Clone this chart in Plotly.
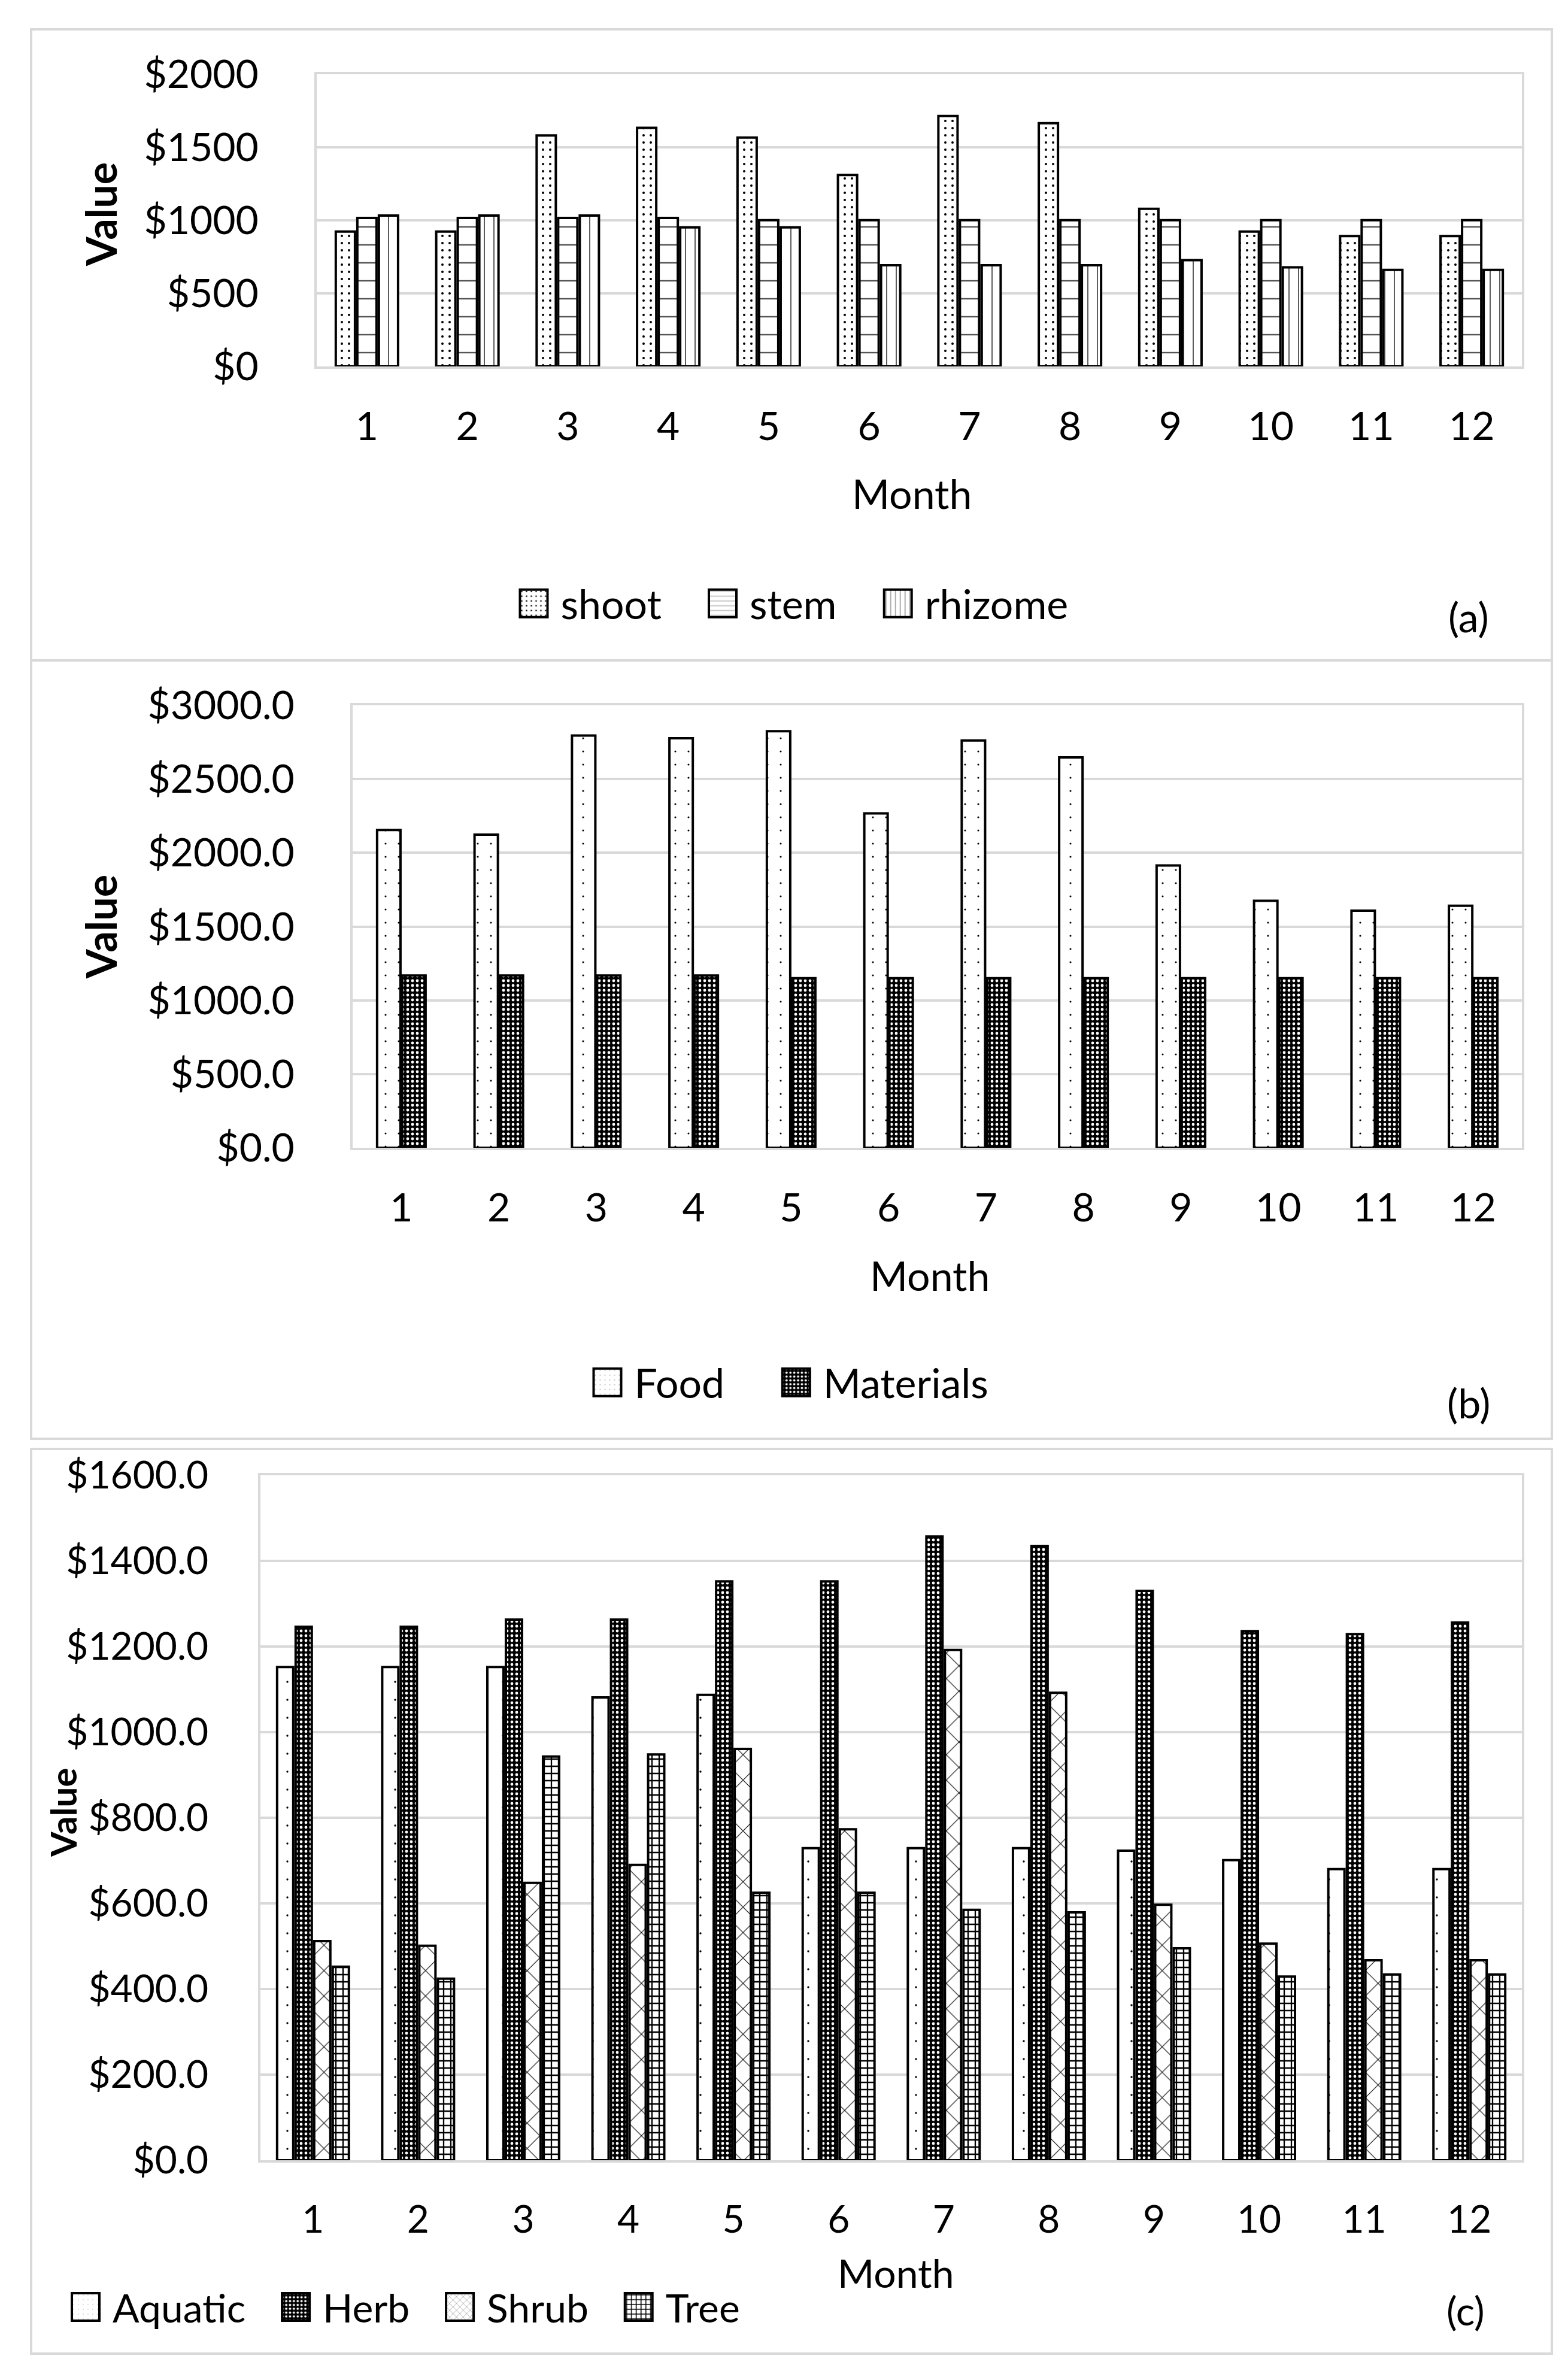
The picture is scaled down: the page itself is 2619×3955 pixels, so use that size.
import plotly.graph_objects as go

# ---------------- data ----------------
months = list(range(1, 13))

# panel (a)
shoot = [923, 923, 1581, 1633, 1567, 1310, 1714, 1665, 1079, 923, 892, 892]
stem = [1016, 1016, 1016, 1016, 1001, 1001, 1001, 1001, 1001, 1001, 1001, 1001]
rhizome = [1033, 1033, 1033, 952, 952, 693, 693, 693, 727, 678, 661, 661]

# panel (b)
food = [2155, 2123, 2795, 2777, 2824, 2267, 2761, 2647, 1914, 1675, 1608, 1641]
materials = [1168, 1168, 1168, 1168, 1150, 1150, 1150, 1150, 1150, 1150, 1150, 1150]

# panel (c)
aquatic = [1152, 1152, 1152, 1081, 1087, 729, 729, 729, 723, 701, 680, 680]
herb = [1246, 1246, 1263, 1263, 1352, 1352, 1457, 1435, 1330, 1236, 1229, 1256]
shrub = [512, 501, 648, 690, 961, 773, 1192, 1092, 597, 506, 467, 467]
tree = [452, 424, 943, 948, 625, 625, 585, 579, 495, 429, 434, 434]

# ---------------- styling ----------------
W, H = 2619, 3955
FONT = "Lato"
GRID = "#d9d9d9"
EDGE = dict(color="black", width=4)


def px_x(v):
    return v / W


def px_y(v):
    return 1 - v / H


PAT = {
    "shoot": dict(shape=".", size=12, solidity=0.09, fgcolor="black", bgcolor="white"),
    "stem": dict(shape="-", size=30, solidity=0.08, fgcolor="#555555", bgcolor="white"),
    "rhizome": dict(shape="|", size=16, solidity=0.12, fgcolor="#555555", bgcolor="white"),
    "food": dict(shape=".", size=22, solidity=0.016, fgcolor="black", bgcolor="white"),
    "materials": dict(shape=".", size=8, solidity=0.28, fgcolor="white", bgcolor="black"),
    "aquatic": dict(shape=".", size=30, solidity=0.01, fgcolor="black", bgcolor="white"),
    "herb": dict(shape=".", size=8, solidity=0.28, fgcolor="white", bgcolor="black"),
    "shrub": dict(shape="x", size=30, solidity=0.07, fgcolor="black", bgcolor="white"),
    "tree": dict(shape="+", size=12, solidity=0.35, fgcolor="black", bgcolor="white"),
}


def group_geom(group_frac, n, gap):
    pitch = group_frac / n
    w = pitch * (1 - gap)
    offs = [-group_frac / 2 + i * pitch + (pitch - w) / 2 for i in range(n)]
    return w, offs


fig = go.Figure()

panels = [
    # names, series, pattern keys, axis suffix, legend id, group width, group gap, legend padding
    (["shoot", "stem", "rhizome"], [shoot, stem, rhizome], ["shoot", "stem", "rhizome"], "", "legend", 0.644, 0.11, 3),
    (["Food", "Materials"], [food, materials], ["food", "materials"], "2", "legend2", 0.516, 0.07, 4),
    (["Aquatic", "Herb", "Shrub", "Tree"], [aquatic, herb, shrub, tree], ["aquatic", "herb", "shrub", "tree"], "3", "legend3", 0.706, 0.13, 2),
]

for names, series, keys, sfx, leg, gfrac, ggap, npad in panels:
    w, offs = group_geom(gfrac, len(series), ggap)
    for i, (name, vals, key, off) in enumerate(zip(names, series, keys, offs)):
        label = name + ("\u00a0" * npad if i < len(names) - 1 else "")
        fig.add_trace(go.Bar(
            x=months, y=vals, name=label,
            xaxis="x" + sfx, yaxis="y" + sfx, legend=leg,
            width=w, offset=off,
            marker=dict(color="white", line=EDGE, pattern=PAT[key]),
        ))


def xax(domain, anchor, size=66):
    return dict(domain=domain, anchor=anchor, range=[0.5, 12.5], tickmode="array",
                tickvals=months, ticktext=[str(m) for m in months],
                tickfont=dict(family=FONT, size=size, color="black"),
                showgrid=False, showline=True, linecolor=GRID, linewidth=4, mirror=True,
                ticks="", ticklabelstandoff=40, zeroline=False, fixedrange=True,
                automargin=False)


def yax(domain, anchor, rng, dtick, fmt, standoff, size=66):
    return dict(domain=domain, anchor=anchor, range=rng, dtick=dtick, tickprefix="$",
                tickformat=fmt, tickfont=dict(family=FONT, size=size, color="black"),
                showgrid=True, gridcolor=GRID, gridwidth=4, showline=True, linecolor=GRID,
                linewidth=4, mirror=True, ticks="", ticklabelstandoff=standoff,
                zeroline=False, fixedrange=True, automargin=False)


def legend_cfg(x, y, xanchor, size):
    return dict(orientation="h", x=x, y=y, xanchor=xanchor, yanchor="middle",
                font=dict(family=FONT, size=size, color="black"), itemwidth=80,
                bgcolor="rgba(0,0,0,0)", borderwidth=0)


fig.update_layout(
    template="none",
    width=W, height=H, margin=dict(l=0, r=0, t=0, b=0, pad=0, autoexpand=False),
    paper_bgcolor="white", plot_bgcolor="white",
    barmode="group", showlegend=True,
    font=dict(family=FONT, color="black"),
    xaxis=xax([px_x(521), px_x(2534)], "y"),
    yaxis=yax([px_y(604), px_y(116)], "x", [0, 2000], 500, "d", 80),
    xaxis2=xax([px_x(581), px_x(2534)], "y2"),
    yaxis2=yax([px_y(1909), px_y(1170)], "x2", [0, 3000], 500, ".1f", 80),
    xaxis3=xax([px_x(427), px_x(2534)], "y3", size=64),
    yaxis3=yax([px_y(3600), px_y(2456)], "x3", [0, 1600], 200, ".1f", 70, size=64),
    legend=legend_cfg(px_x(1310), px_y(1000), "center", 68),
    legend2=legend_cfg(px_x(1305), px_y(2301), "center", 68),
    legend3=legend_cfg(px_x(90), px_y(3845), "left", 66),
)

annos = [
    dict(text="<b>Value</b>", x=px_x(160), y=px_y(350), textangle=-90, size=70),
    dict(text="<b>Value</b>", x=px_x(160), y=px_y(1540), textangle=-90, size=70),
    dict(text="<b>Value</b>", x=px_x(97), y=px_y(3020), textangle=-90, size=60),
    dict(text="Month", x=px_x(1515), y=px_y(816), textangle=0, size=68),
    dict(text="Month", x=px_x(1545), y=px_y(2121), textangle=0, size=68),
    dict(text="Month", x=px_x(1488), y=px_y(3787), textangle=0, size=66),
    dict(text="(a)", x=px_x(2445), y=px_y(1021), textangle=0, size=68),
    dict(text="(b)", x=px_x(2445), y=px_y(2334), textangle=0, size=68),
    dict(text="(c)", x=px_x(2440), y=px_y(3850), textangle=0, size=66),
]
for a in annos:
    fig.add_annotation(text=a["text"], x=a["x"], y=a["y"], xref="paper", yref="paper",
                       xanchor="center", yanchor="middle", showarrow=False,
                       textangle=a["textangle"], font=dict(family=FONT, size=a["size"], color="black"))

# panel frames
for (x0, y0, x1, y1) in [(44, 41, 2584, 1095), (44, 1095, 2584, 2395), (44, 2412, 2584, 3923)]:
    fig.add_shape(type="rect", xref="paper", yref="paper",
                  x0=px_x(x0), x1=px_x(x1), y0=px_y(y1), y1=px_y(y0),
                  line=dict(color=GRID, width=4), layer="below")

post = """
document.querySelectorAll('.legendpoints path').forEach(function(p){
  p.setAttribute('d','M23,23H-23V-23H23Z');
});
"""

fig.write_html("out.html", post_script=post, config={"staticPlot": True})
